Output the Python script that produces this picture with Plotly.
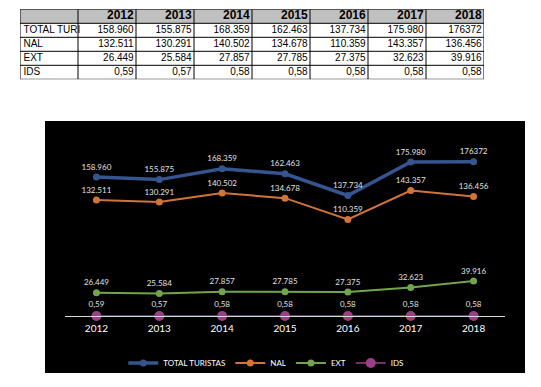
import plotly.graph_objects as go

years = ["2012", "2013", "2014", "2015", "2016", "2017", "2018"]
total = [158960, 155875, 168359, 162463, 137734, 175980, 176372]
nal = [132511, 130291, 140502, 134678, 110359, 143357, 136456]
ext = [26449, 25584, 27857, 27785, 27375, 32623, 39916]
ids = [0.59, 0.57, 0.58, 0.58, 0.58, 0.58, 0.58]

total_lbl = ["158.960", "155.875", "168.359", "162.463", "137.734", "175.980", "176372"]
nal_lbl = ["132.511", "130.291", "140.502", "134.678", "110.359", "143.357", "136.456"]
ext_lbl = ["26.449", "25.584", "27.857", "27.785", "27.375", "32.623", "39.916"]
ids_lbl = ["0,59", "0,57", "0,58", "0,58", "0,58", "0,58", "0,58"]

row_names = ["TOTAL TURI", "NAL", "EXT", "IDS"]

# The page body has an 8px margin; the figure is sized/positioned to compensate.
OFF = 8
WIN_W, WIN_H = 541, 387
W, H = WIN_W - 2 * OFF, WIN_H - 2 * OFF


def px(X):
    return (X - OFF) / W


def py(Y):
    return 1 - (Y - OFF) / H


fig = go.Figure()

# ---------------- Table (drawn on its own axes) ----------------
ncols = len(years) + 1
nrows = len(row_names) + 1
table_rows = [total_lbl, nal_lbl, ext_lbl, ids_lbl]

# header fill
fig.add_shape(type="rect", xref="x2", yref="y2", x0=0, x1=ncols, y0=0, y1=1,
              fillcolor="#c0c0c0", line=dict(width=0), layer="below")
# grid lines
for c in range(ncols + 1):
    fig.add_shape(type="line", xref="x2", yref="y2", x0=c, x1=c, y0=0, y1=nrows,
                  line=dict(color="black", width=1))
for r in range(nrows + 1):
    fig.add_shape(type="line", xref="x2", yref="y2", x0=0, x1=ncols, y0=r, y1=r,
                  line=dict(color="black", width=1))

pad = 0.04
# header text
fig.add_trace(go.Scatter(
    x=[i + 2 - pad for i in range(len(years))], y=[0.5] * len(years),
    text=["<b>" + y + "</b>" for y in years], mode="text", textposition="middle left",
    textfont=dict(family="Liberation Sans", size=12, color="black"),
    xaxis="x2", yaxis="y2", showlegend=False, hoverinfo="skip", cliponaxis=False))
# row names
fig.add_trace(go.Scatter(
    x=[0.06] * len(row_names), y=[r + 1.5 for r in range(len(row_names))],
    text=row_names, mode="text", textposition="middle right",
    textfont=dict(family="Liberation Sans Narrow, Liberation Sans", size=10, color="black"),
    xaxis="x2", yaxis="y2", showlegend=False, hoverinfo="skip", cliponaxis=False))
# values
vx, vy, vt = [], [], []
for r, row in enumerate(table_rows):
    for i, v in enumerate(row):
        vx.append(i + 2 - pad)
        vy.append(r + 1.5)
        vt.append(v)
fig.add_trace(go.Scatter(
    x=vx, y=vy, text=vt, mode="text", textposition="middle left",
    textfont=dict(family="Liberation Sans Narrow, Liberation Sans", size=10, color="black"),
    xaxis="x2", yaxis="y2", showlegend=False, hoverinfo="skip", cliponaxis=False))

# ---------------- Line chart ----------------
lbl_font = dict(family="Lato", size=8, color="#e0e0e0")

series = [
    ("TOTAL TURISTAS", total, total_lbl, "#34558f", 3.5, 7),
    ("NAL", nal, nal_lbl, "#d0743a", 2, 7),
    ("EXT", ext, ext_lbl, "#72a34e", 2, 7),
    ("IDS", ids, ids_lbl, "#9c3f86", 1.5, 10),
]
for name, vals, lbls, col, lw, ms in series:
    fig.add_trace(go.Scatter(
        x=years, y=vals, name=name, mode="lines+markers+text",
        text=lbls, textposition="top center", textfont=lbl_font,
        line=dict(color=col, width=lw), marker=dict(color=col, size=ms),
        cliponaxis=False,
    ))

fig.add_shape(type="rect", xref="paper", yref="paper",
              x0=px(45), x1=px(525), y0=py(373), y1=py(121),
              fillcolor="black", line=dict(width=0), layer="below")

fig.update_layout(
    width=W, height=H,
    margin=dict(l=0, r=0, t=0, b=0),
    paper_bgcolor="white", plot_bgcolor="rgba(0,0,0,0)",
    font=dict(family="Lato"),
    xaxis=dict(domain=[px(65), px(505)], type="category", range=[-0.5, 6.5],
               showline=True, linecolor="#d9d9d9", linewidth=1, ticks="",
               showgrid=False, zeroline=False, fixedrange=True, ticklabelstandoff=3,
               tickfont=dict(family="Lato", size=10, color="white")),
    yaxis=dict(domain=[py(316), py(141)], range=[0, 200000], visible=False,
               showgrid=False, zeroline=False, fixedrange=True),
    xaxis2=dict(domain=[px(20), px(484)], range=[0, ncols], visible=False,
                showgrid=False, zeroline=False, fixedrange=True, anchor="y2"),
    yaxis2=dict(domain=[py(79.3), py(9.3)], range=[nrows, 0], visible=False,
                showgrid=False, zeroline=False, fixedrange=True, anchor="x2"),
    showlegend=True,
    legend=dict(orientation="h", x=0.492, xanchor="center", y=py(363), yanchor="middle",
                font=dict(family="Lato", size=8, color="white"), bgcolor="rgba(0,0,0,0)",
                itemwidth=30),
)

fig.write_html("out.html")
